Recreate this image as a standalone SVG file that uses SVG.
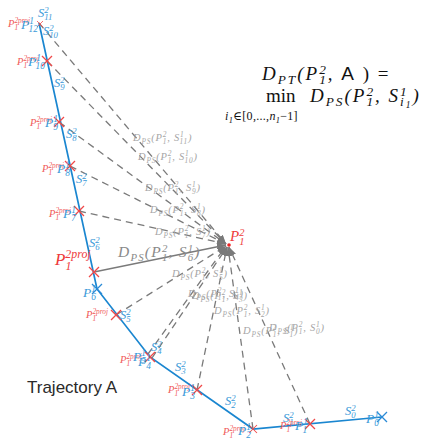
<svg xmlns="http://www.w3.org/2000/svg" width="421" height="440" viewBox="0 0 421 440">
<defs>
<style>
.m{font-family:"Liberation Serif","DejaVu Serif",serif;font-style:italic}
.s{font-size:70%}
.g{fill:#a6a6a6;font-size:10.5px;letter-spacing:0.8px}
.gb{fill:#8a8a8a;font-size:15.5px;letter-spacing:1.2px}
.b{fill:#3a9ad9;font-size:12.5px}
.bp{fill:#3a9ad9;font-size:13.5px}
.r{fill:#f05a5a;font-size:10.5px}
.rb{fill:#ee3b3b;font-size:17px}
.k{fill:#111;font-size:19px;letter-spacing:2px}
.d{stroke:#7a7a7a;stroke-width:1.3;stroke-dasharray:7 5;fill:none}
.sl{stroke:#7a7a7a;stroke-width:1.3;fill:none}
.xr{stroke:#f04848;stroke-width:1.3;fill:none}
.xb{stroke:#2a8ad6;stroke-width:1.3;fill:none}
</style>
<marker id="ah" markerUnits="userSpaceOnUse" markerWidth="9" markerHeight="7" refX="9" refY="3.5" orient="auto">
<path d="M0,0 L9,3.5 L0,7 z" fill="#7a7a7a"/>
</marker>
<path id="x" d="M-5,-5 L5,5 M-5,5 L5,-5"/>
</defs>

<g id="trajectory-A">
<polyline points="39,23 97,289 150,357 253,429 382,417" fill="none" stroke="#1a86d0" stroke-width="1.7"/>
</g>

<g id="connectors">
<line class="d" x1="39" y1="23" x2="226" y2="244" marker-end="url(#ah)"/>
<line class="d" x1="47" y1="61" x2="226" y2="244" marker-end="url(#ah)"/>
<line class="d" x1="59" y1="122" x2="226" y2="244" marker-end="url(#ah)"/>
<line class="d" x1="70" y1="166" x2="226" y2="244" marker-end="url(#ah)"/>
<line class="d" x1="79" y1="211" x2="226" y2="244" marker-end="url(#ah)"/>
<line class="sl" x1="94" y1="272" x2="226" y2="245" marker-end="url(#ah)"/>
<line class="d" x1="116" y1="315" x2="226" y2="246" marker-end="url(#ah)"/>
<line class="d" x1="148" y1="354" x2="226" y2="246" marker-end="url(#ah)"/>
<line class="d" x1="152" y1="358" x2="227" y2="247" marker-end="url(#ah)"/>
<line class="d" x1="197" y1="390" x2="227" y2="247" marker-end="url(#ah)"/>
<line class="d" x1="253" y1="429" x2="228" y2="247" marker-end="url(#ah)"/>
<line class="d" x1="310" y1="424" x2="229" y2="247" marker-end="url(#ah)"/>
</g>

<g id="point-P12"><use href="#x" class="xr" transform="translate(40,24) scale(0.6)"/></g>
<g id="point-P10"><use href="#x" class="xr" transform="translate(47,61)"/></g>
<g id="point-P9"><use href="#x" class="xr" transform="translate(59,122)"/></g>
<g id="point-P8"><use href="#x" class="xr" transform="translate(70,166)"/></g>
<g id="point-P7"><use href="#x" class="xr" transform="translate(79,211)"/></g>
<g id="point-proj6"><use href="#x" class="xr" transform="translate(94,272)"/></g>
<g id="point-P6"><use href="#x" class="xb" transform="translate(97,289)"/></g>
<g id="point-proj5"><use href="#x" class="xr" transform="translate(116,315)"/></g>
<g id="point-P4"><use href="#x" class="xr" transform="translate(150,357)"/></g>
<g id="point-P3"><use href="#x" class="xr" transform="translate(197,390)"/></g>
<g id="point-P2"><use href="#x" class="xr" transform="translate(253,429) scale(0.8)"/></g>
<g id="point-P1"><use href="#x" class="xr" transform="translate(310,424)"/></g>
<g id="point-P0"><use href="#x" class="xb" transform="translate(382,417)"/></g>
<g id="point-P12-target"><circle cx="229" cy="245" r="1.8" fill="#ee2222"/>
<text class="m rb" x="230" y="241" style="font-size:15px">P<tspan class="s" dy="-5.5">2</tspan><tspan class="s" dx="-5.2" dy="9">1</tspan></text>
</g>

<g id="segment-labels">
<text class="m b" x="38" y="17">S<tspan class="s" dy="-4.5">2</tspan><tspan class="s" dx="-4.4" dy="7.5">11</tspan></text>
<text class="m b" x="43" y="35">S<tspan class="s" dy="-4.5">2</tspan><tspan class="s" dx="-4.4" dy="7.5">10</tspan></text>
<text class="m b" x="54" y="87">S<tspan class="s" dy="-4.5">2</tspan><tspan class="s" dx="-4.4" dy="7.5">9</tspan></text>
<text class="m b" x="66" y="138">S<tspan class="s" dy="-4.5">2</tspan><tspan class="s" dx="-4.4" dy="7.5">8</tspan></text>
<text class="m b" x="76" y="183">S<tspan class="s" dy="-4.5">2</tspan><tspan class="s" dx="-4.4" dy="7.5">7</tspan></text>
<text class="m b" x="89" y="247">S<tspan class="s" dy="-4.5">2</tspan><tspan class="s" dx="-4.4" dy="7.5">6</tspan></text>
<text class="m b" x="120" y="319">S<tspan class="s" dy="-4.5">2</tspan><tspan class="s" dx="-4.4" dy="7.5">5</tspan></text>
<text class="m b" x="151" y="351">S<tspan class="s" dy="-4.5">2</tspan><tspan class="s" dx="-4.4" dy="7.5">4</tspan></text>
<text class="m b" x="175" y="371">S<tspan class="s" dy="-4.5">2</tspan><tspan class="s" dx="-4.4" dy="7.5">3</tspan></text>
<text class="m b" x="225" y="405">S<tspan class="s" dy="-4.5">2</tspan><tspan class="s" dx="-4.4" dy="7.5">2</tspan></text>
<text class="m b" x="283" y="422">S<tspan class="s" dy="-4.5">2</tspan><tspan class="s" dx="-4.4" dy="7.5">1</tspan></text>
<text class="m b" x="345" y="415">S<tspan class="s" dy="-4.5">2</tspan><tspan class="s" dx="-4.4" dy="7.5">0</tspan></text>
</g>

<g id="proj-labels">
<text class="m r" x="8" y="27">P<tspan class="s" dy="3">1</tspan><tspan class="s" dx="-3.7" dy="-7">2proj</tspan></text>
<text class="m r" x="17" y="65">P<tspan class="s" dy="3">1</tspan><tspan class="s" dx="-3.7" dy="-7">2proj</tspan></text>
<text class="m r" x="30" y="126">P<tspan class="s" dy="3">1</tspan><tspan class="s" dx="-3.7" dy="-7">2proj</tspan></text>
<text class="m r" x="42" y="172">P<tspan class="s" dy="3">1</tspan><tspan class="s" dx="-3.7" dy="-7">2proj</tspan></text>
<text class="m r" x="49" y="217">P<tspan class="s" dy="3">1</tspan><tspan class="s" dx="-3.7" dy="-7">2proj</tspan></text>
<text class="m rb" x="55" y="265">P<tspan class="s" dy="5">1</tspan><tspan class="s" dx="-6" dy="-12">2proj</tspan></text>
<text class="m r" x="86" y="318">P<tspan class="s" dy="3">1</tspan><tspan class="s" dx="-3.7" dy="-7">2proj</tspan></text>
<text class="m r" x="120" y="363">P<tspan class="s" dy="3">1</tspan><tspan class="s" dx="-3.7" dy="-7">2proj</tspan></text>
<text class="m r" x="168" y="393">P<tspan class="s" dy="3">1</tspan><tspan class="s" dx="-3.7" dy="-7">2proj</tspan></text>
<text class="m r" x="223" y="435">P<tspan class="s" dy="3">1</tspan><tspan class="s" dx="-3.7" dy="-7">2proj</tspan></text>
<text class="m r" x="280" y="429">P<tspan class="s" dy="3">1</tspan><tspan class="s" dx="-3.7" dy="-7">2proj</tspan></text>
</g>

<g id="point-labels">
<text class="m bp" x="21" y="29">P<tspan class="s" dy="-5">1</tspan><tspan class="s" dx="-4.7" dy="8">12</tspan></text>
<text class="m bp" x="28" y="66">P<tspan class="s" dy="-5">1</tspan><tspan class="s" dx="-4.7" dy="8">10</tspan></text>
<text class="m bp" x="45" y="127">P<tspan class="s" dy="-5">1</tspan><tspan class="s" dx="-4.7" dy="8">9</tspan></text>
<text class="m bp" x="57" y="173">P<tspan class="s" dy="-5">1</tspan><tspan class="s" dx="-4.7" dy="8">8</tspan></text>
<text class="m bp" x="63" y="218">P<tspan class="s" dy="-5">1</tspan><tspan class="s" dx="-4.7" dy="8">7</tspan></text>
<text class="m bp" x="83" y="297">P<tspan class="s" dy="-5">1</tspan><tspan class="s" dx="-4.7" dy="8">6</tspan></text>
<text class="m bp" x="133" y="361">P<tspan class="s" dy="-5">1</tspan><tspan class="s" dx="-4.7" dy="8">5</tspan></text>
<text class="m bp" x="138" y="366">P<tspan class="s" dy="-5">1</tspan><tspan class="s" dx="-4.7" dy="8">4</tspan></text>
<text class="m bp" x="182" y="396">P<tspan class="s" dy="-5">1</tspan><tspan class="s" dx="-4.7" dy="8">3</tspan></text>
<text class="m bp" x="238" y="435">P<tspan class="s" dy="-5">1</tspan><tspan class="s" dx="-4.7" dy="8">2</tspan></text>
<text class="m bp" x="295" y="430">P<tspan class="s" dy="-5">1</tspan><tspan class="s" dx="-4.7" dy="8">1</tspan></text>
<text class="m bp" x="366" y="423">P<tspan class="s" dy="-5">1</tspan><tspan class="s" dx="-4.7" dy="8">0</tspan></text>
</g>

<g id="distance-labels">
<text class="m g" x="133" y="141">D<tspan class="s" dy="2.5">PS</tspan><tspan dy="-2.5">(P</tspan><tspan class="s" dy="-4">2</tspan><tspan class="s" dx="-4.5" dy="6.5">1</tspan><tspan dy="-2.5">, S</tspan><tspan class="s" dy="-4">1</tspan><tspan class="s" dx="-4.5" dy="6.5">11</tspan><tspan dy="-2.5">)</tspan></text>
<text class="m g" x="138" y="160">D<tspan class="s" dy="2.5">PS</tspan><tspan dy="-2.5">(P</tspan><tspan class="s" dy="-4">2</tspan><tspan class="s" dx="-4.5" dy="6.5">1</tspan><tspan dy="-2.5">, S</tspan><tspan class="s" dy="-4">1</tspan><tspan class="s" dx="-4.5" dy="6.5">10</tspan><tspan dy="-2.5">)</tspan></text>
<text class="m g" x="145" y="191">D<tspan class="s" dy="2.5">PS</tspan><tspan dy="-2.5">(P</tspan><tspan class="s" dy="-4">2</tspan><tspan class="s" dx="-4.5" dy="6.5">1</tspan><tspan dy="-2.5">, S</tspan><tspan class="s" dy="-4">1</tspan><tspan class="s" dx="-4.5" dy="6.5">9</tspan><tspan dy="-2.5">)</tspan></text>
<text class="m g" x="150" y="213">D<tspan class="s" dy="2.5">PS</tspan><tspan dy="-2.5">(P</tspan><tspan class="s" dy="-4">2</tspan><tspan class="s" dx="-4.5" dy="6.5">1</tspan><tspan dy="-2.5">, S</tspan><tspan class="s" dy="-4">1</tspan><tspan class="s" dx="-4.5" dy="6.5">8</tspan><tspan dy="-2.5">)</tspan></text>
<text class="m g" x="155" y="235">D<tspan class="s" dy="2.5">PS</tspan><tspan dy="-2.5">(P</tspan><tspan class="s" dy="-4">2</tspan><tspan class="s" dx="-4.5" dy="6.5">1</tspan><tspan dy="-2.5">, S</tspan><tspan class="s" dy="-4">1</tspan><tspan class="s" dx="-4.5" dy="6.5">7</tspan><tspan dy="-2.5">)</tspan></text>
<text class="m gb" x="118" y="257">D<tspan class="s" dy="3.5">PS</tspan><tspan dy="-3.5">(P</tspan><tspan class="s" dy="-5.5">2</tspan><tspan class="s" dx="-6.6" dy="9">1</tspan><tspan dy="-3.5">, S</tspan><tspan class="s" dy="-5.5">1</tspan><tspan class="s" dx="-6.6" dy="9">6</tspan><tspan dy="-3.5">)</tspan></text>
<text class="m g" x="172" y="277">D<tspan class="s" dy="2.5">PS</tspan><tspan dy="-2.5">(P</tspan><tspan class="s" dy="-4">2</tspan><tspan class="s" dx="-4.5" dy="6.5">1</tspan><tspan dy="-2.5">, S</tspan><tspan class="s" dy="-4">1</tspan><tspan class="s" dx="-4.5" dy="6.5">5</tspan><tspan dy="-2.5">)</tspan></text>
<text class="m g" x="188" y="297">D<tspan class="s" dy="2.5">PS</tspan><tspan dy="-2.5">(P</tspan><tspan class="s" dy="-4">2</tspan><tspan class="s" dx="-4.5" dy="6.5">1</tspan><tspan dy="-2.5">, S</tspan><tspan class="s" dy="-4">1</tspan><tspan class="s" dx="-4.5" dy="6.5">4</tspan><tspan dy="-2.5">)</tspan></text>
<text class="m g" x="192" y="299">D<tspan class="s" dy="2.5">PS</tspan><tspan dy="-2.5">(P</tspan><tspan class="s" dy="-4">2</tspan><tspan class="s" dx="-4.5" dy="6.5">1</tspan><tspan dy="-2.5">, S</tspan><tspan class="s" dy="-4">1</tspan><tspan class="s" dx="-4.5" dy="6.5">3</tspan><tspan dy="-2.5">)</tspan></text>
<text class="m g" x="214" y="314">D<tspan class="s" dy="2.5">PS</tspan><tspan dy="-2.5">(P</tspan><tspan class="s" dy="-4">2</tspan><tspan class="s" dx="-4.5" dy="6.5">1</tspan><tspan dy="-2.5">, S</tspan><tspan class="s" dy="-4">1</tspan><tspan class="s" dx="-4.5" dy="6.5">2</tspan><tspan dy="-2.5">)</tspan></text>
<text class="m g" x="243" y="334">D<tspan class="s" dy="2.5">PS</tspan><tspan dy="-2.5">(P</tspan><tspan class="s" dy="-4">2</tspan><tspan class="s" dx="-4.5" dy="6.5">1</tspan><tspan dy="-2.5">, S</tspan><tspan class="s" dy="-4">1</tspan><tspan class="s" dx="-4.5" dy="6.5">1</tspan><tspan dy="-2.5">)</tspan></text>
<text class="m g" x="269" y="331">D<tspan class="s" dy="2.5">PS</tspan><tspan dy="-2.5">(P</tspan><tspan class="s" dy="-4">2</tspan><tspan class="s" dx="-4.5" dy="6.5">1</tspan><tspan dy="-2.5">, S</tspan><tspan class="s" dy="-4">1</tspan><tspan class="s" dx="-4.5" dy="6.5">0</tspan><tspan dy="-2.5">)</tspan></text>
</g>

<g id="formula">
<text class="m k" x="262" y="80">D<tspan class="s" dy="4">PT</tspan><tspan dy="-4">(P</tspan><tspan class="s" dy="-6.5">2</tspan><tspan class="s" dx="-8.7" dy="10.5">1</tspan><tspan dy="-4">, </tspan><tspan style="font-family:'Liberation Sans',sans-serif;font-style:normal">A</tspan><tspan style="font-style:normal"> ) =</tspan></text>
<text class="m k" x="266" y="102" style="font-style:normal;letter-spacing:0">min</text>
<text class="m k" x="225" y="120" style="font-size:12px;letter-spacing:0.3px">i<tspan class="s" dy="2.5">1</tspan><tspan dy="-2.5" style="font-style:normal">∈[0,...,</tspan>n<tspan class="s" dy="2.5">1</tspan><tspan dy="-2.5" style="font-style:normal">−1]</tspan></text>
<text class="m k" x="310" y="102">D<tspan class="s" dy="4">PS</tspan><tspan dy="-4">(P</tspan><tspan class="s" dy="-6.5">2</tspan><tspan class="s" dx="-8.7" dy="10.5">1</tspan><tspan dy="-4">, S</tspan><tspan class="s" dy="-6.5">1</tspan><tspan class="s" dx="-8.7" dy="10.5">i</tspan><tspan style="font-size:50%" dy="2">1</tspan><tspan dy="-6">)</tspan></text>
</g>

<g id="title">
<text x="27" y="393" style="font-family:'Liberation Sans',Arial,sans-serif;font-size:17px;fill:#2a2a2a">Trajectory A</text>
</g>
</svg>
